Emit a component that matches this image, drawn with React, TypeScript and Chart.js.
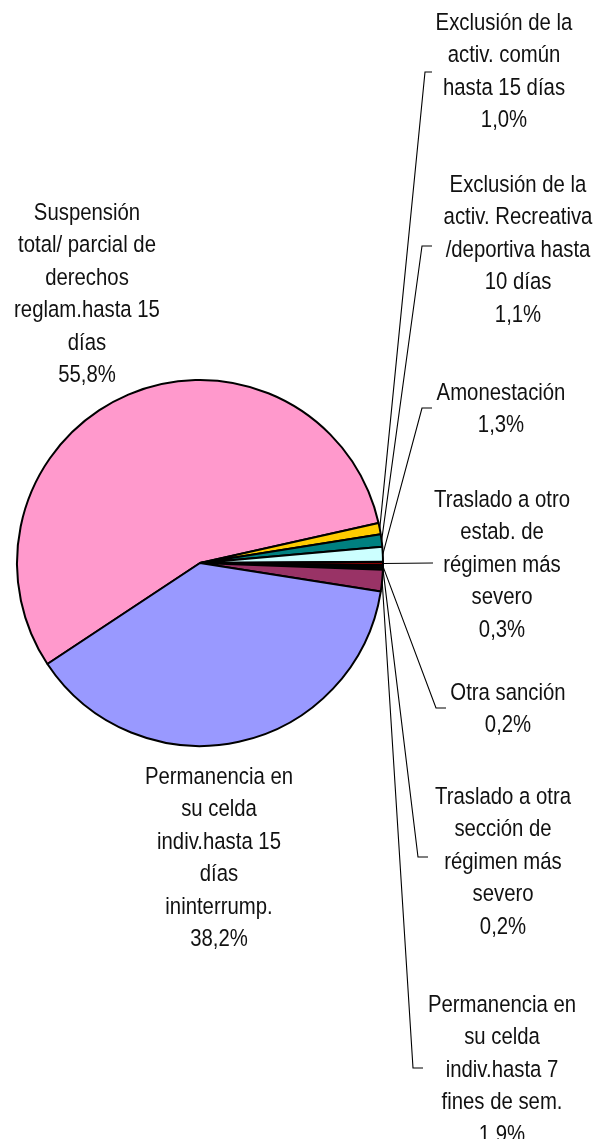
import React, { useEffect, useRef } from "react";
import { Chart, registerables } from "chart.js";

Chart.register(...registerables);

// ---- Data ----
const categories: string[] = [
  "Suspensión\ntotal/ parcial de\nderechos\nreglam.hasta 15\ndías",
  "Exclusión de la\nactiv. común\nhasta 15 días",
  "Exclusión de la\nactiv. Recreativa\n/deportiva hasta\n10 días",
  "Amonestación",
  "Traslado a otro\nestab. de\nrégimen más\nsevero",
  "Otra sanción",
  "Traslado a otra\nsección de\nrégimen más\nsevero",
  "Permanencia en\nsu celda\nindiv.hasta 7\nfines de sem.",
  "Permanencia en\nsu celda\nindiv.hasta 15\ndías\nininterrump.",
];
const values: number[] = [55.8, 1.0, 1.1, 1.3, 0.3, 0.2, 0.2, 1.9, 38.2];
const colors: string[] = [
  "#FF99CC",
  "#FFCC00",
  "#008080",
  "#CCFFFF",
  "#800000",
  "#222222",
  "#003300",
  "#993366",
  "#9999FF",
];

// ---- Label layout (text centre x, first line centre y, optional leader elbow) ----
type LabelLayout = { cx: number; top: number; elbow?: [number, number]; elbowEnd?: number };
const labelLayout: LabelLayout[] = [
  { cx: 87, top: 213 },
  { cx: 504, top: 23, elbow: [425, 72], elbowEnd: 432 },
  { cx: 518, top: 185, elbow: [422, 246], elbowEnd: 432 },
  { cx: 501, top: 393, elbow: [422, 408], elbowEnd: 432 },
  { cx: 502, top: 500, elbow: [433, 563], elbowEnd: 433 },
  { cx: 508, top: 693, elbow: [436, 708], elbowEnd: 446 },
  { cx: 503, top: 797, elbow: [418, 857], elbowEnd: 428 },
  { cx: 502, top: 1005, elbow: [413, 1068], elbowEnd: 423 },
  { cx: 219, top: 777 },
];

const FONT = '24.5px "Liberation Sans Narrow", "Liberation Sans", Arial, sans-serif';
const X_SCALE = 0.83;
const LINE_H = 32.5;

const fmtPct = (v: number) => v.toFixed(1).replace(".", ",") + "%";

const labelPlugin = {
  id: "pieLabels",
  afterDatasetsDraw(chart: any) {
    const ctx = chart.ctx as CanvasRenderingContext2D;
    const meta = chart.getDatasetMeta(0);
    ctx.save();
    // leader lines
    ctx.strokeStyle = "#000";
    ctx.lineWidth = 1.1;
    meta.data.forEach((arc: any, i: number) => {
      const lay = labelLayout[i];
      if (!lay || !lay.elbow) return;
      const p = arc.getProps(["x", "y", "startAngle", "endAngle", "outerRadius"], true);
      const mid = (p.startAngle + p.endAngle) / 2;
      const sx = p.x + Math.cos(mid) * p.outerRadius;
      const sy = p.y + Math.sin(mid) * p.outerRadius;
      ctx.beginPath();
      ctx.moveTo(sx, sy);
      ctx.lineTo(lay.elbow[0], lay.elbow[1]);
      ctx.lineTo(lay.elbowEnd ?? lay.elbow[0], lay.elbow[1]);
      ctx.stroke();
    });
    // texts
    ctx.fillStyle = "#111";
    ctx.font = FONT;
    ctx.textAlign = "center";
    ctx.textBaseline = "middle";
    categories.forEach((cat, i) => {
      const lay = labelLayout[i];
      const lines = [...cat.split("\n"), fmtPct(values[i])];
      lines.forEach((ln, j) => {
        ctx.save();
        ctx.translate(lay.cx, lay.top + j * LINE_H);
        ctx.scale(X_SCALE, 1);
        ctx.fillText(ln, 0, 0);
        ctx.restore();
      });
    });
    ctx.restore();
  },
};

export default function App() {
  const ref = useRef<HTMLCanvasElement | null>(null);
  useEffect(() => {
    if (!ref.current) return;
    const chart = new Chart(ref.current, {
      type: "pie",
      data: {
        labels: categories,
        datasets: [
          {
            data: values,
            backgroundColor: colors,
            borderColor: "#000",
            borderWidth: 2,
          },
        ],
      },
      options: {
        animation: false,
        responsive: false,
        devicePixelRatio: 1,
        rotation: 236.5,
        radius: 183,
        layout: { padding: { left: 17, right: 213, top: 380, bottom: 393 } },
        plugins: {
          legend: { display: false },
          tooltip: { enabled: false },
        },
      },
      plugins: [labelPlugin],
    });
    return () => chart.destroy();
  }, []);
  return (
    <div style={{ position: "absolute", left: 0, top: 0, width: 596, height: 1139, background: "#fff" }}>
      <canvas ref={ref} width={596} height={1139} style={{ display: "block" }} />
    </div>
  );
}
